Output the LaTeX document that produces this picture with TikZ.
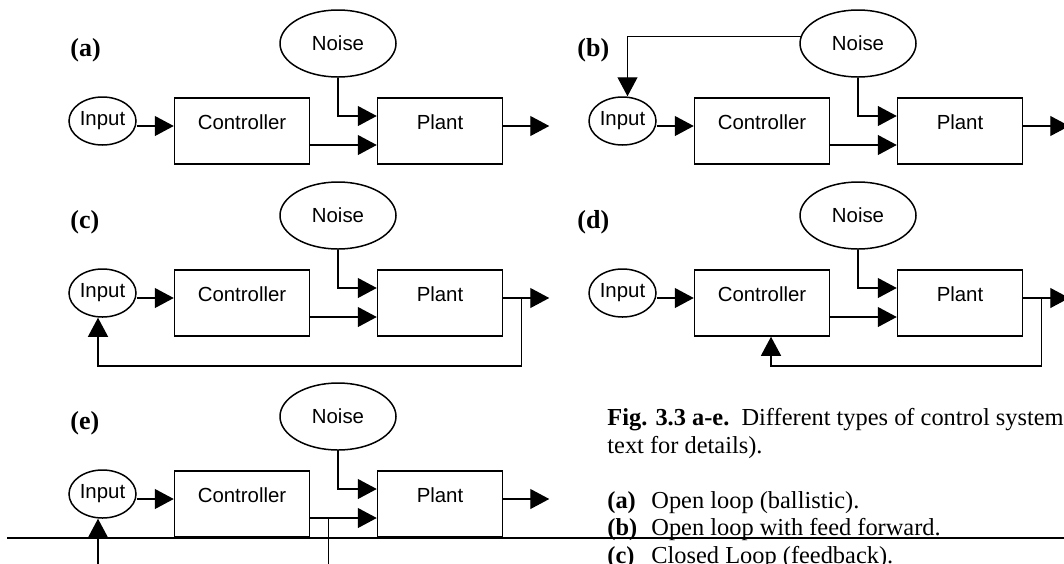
\documentclass[tikz,border=0pt]{standalone}
\usepackage{fontspec}
\setmainfont{Liberation Serif}
\setsansfont{Liberation Sans}
\usetikzlibrary{shapes.geometric, arrows.meta}

\begin{document}
\begin{tikzpicture}[
  x = 0.5pt, y = -0.5pt,
  > = {Triangle[length = 9.5pt, width = 10pt]},
  conn/.style = {line width = 0.6pt},
  box/.style = {draw, line width = 0.75pt, minimum height = 33pt, inner sep = 0pt,
                text height = 7.5pt, text depth = 9.5pt,
                font = \sffamily\fontsize{10.2}{12}\selectfont},
  blob/.style = {draw, ellipse, line width = 0.75pt, inner sep = 0pt,
                 font = \sffamily\fontsize{10.2}{12}\selectfont},
  tag/.style = {anchor = base west, inner sep = 0pt,
                font = \bfseries\fontsize{13}{15}\selectfont},
  capt/.style = {anchor = base west, inner sep = 0pt,
                 font = \fontsize{12.2}{14}\selectfont}
  ]
  \useasboundingbox (0,0) rectangle (1064,563);
  \clip (0,0) rectangle (1064,563);
  \foreach \p/\dx/\dy/\lx in {a/0/0/70, b/520/0/57, c/0/172/70,
                              d/520/172/57, e/0/373/70} {
    \begin{scope}[shift = {(\dx,\dy)}]
      \node[tag] (tag-\p) at (\lx,56) {(\p)};
      \node[blob, minimum width = 58pt, minimum height = 33.5pt] (noise-\p) at (338,43.5) {Noise};
      \node[blob, minimum width = 33.5pt, minimum height = 24pt] (in-\p) at (102.5,121) {Input};
      \node[box, minimum width = 67.5pt] (ctl-\p) at (242,131) {Controller};
      \node[box, minimum width = 62.5pt] (plant-\p) at (440,131) {Plant};
      \draw[conn, ->] ([yshift = -2.5pt]in-\p.east) -- ([yshift = 2.5pt]ctl-\p.west);
      \draw[conn, ->] (noise-\p) |- ([yshift = 7.5pt]plant-\p.west);
      \draw[conn, ->] ([yshift = -7pt]ctl-\p.east) -- ([yshift = -7pt]plant-\p.west);
      \draw[conn, ->] ([yshift = 2.5pt]plant-\p.east) -- ++(46,0);
    \end{scope}
  }
  \draw[conn, ->] (noise-b.173) -| ([xshift = 2.5pt]in-b.north);
  \coordinate (tap-c) at ([xshift = 9.25pt, yshift = 2.5pt]plant-c.east);
  \coordinate (tap-d) at ([xshift = 9.25pt, yshift = 2.5pt]plant-d.east);
  \coordinate (tap-e) at ([xshift = 9pt, yshift = -7pt]ctl-e.east);
  \draw[conn, ->] (tap-c) -- ++(0,68) -| ([xshift = -2.25pt]in-c.south);
  \draw[conn, ->] (tap-d) -- ++(0,68) -| ([xshift = 4.5pt]ctl-d.south);
  \draw[conn] (tap-e) -- ++(0,60);
  \draw[conn, <-] ([xshift = -2.25pt]in-e.south) -- ++(0,60);
  \draw[line width = 1pt] (7,538) -- (1070,538);
  \node[capt] (cap-1) at (607,425) {\textbf{Fig. 3.3 a-e.}\ \ Different types of control system};
  \node[capt] (cap-2) at (607,453) {text for details).};
  \node[capt] (cap-3) at (607,508) {\makebox[22pt][l]{\textbf{(a)}}Open loop (ballistic).};
  \node[capt] (cap-4) at (607,535.5) {\makebox[22pt][l]{\textbf{(b)}}Open loop with feed forward.};
  \node[capt] (cap-5) at (607,563) {\makebox[22pt][l]{\textbf{(c)}}Closed Loop (feedback).};
\end{tikzpicture}
\end{document}
